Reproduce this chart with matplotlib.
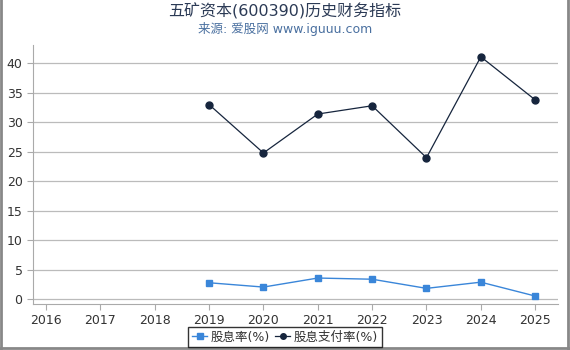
import matplotlib.pyplot as plt
from matplotlib.lines import Line2D

plt.rcParams['font.family'] = ['DejaVu Sans', 'Noto Sans CJK SC']

years = [2016, 2017, 2018, 2019, 2020, 2021, 2022, 2023, 2024, 2025]
data_years = [2019, 2020, 2021, 2022, 2023, 2024, 2025]
yield_pct = [2.8, 2.07, 3.6, 3.4, 1.85, 2.9, 0.55]        # 股息率(%)
payout_pct = [33.0, 24.8, 31.4, 32.8, 24.0, 41.1, 33.8]   # 股息支付率(%)

fig = plt.figure(figsize=(5.7, 3.5), dpi=100)
ax = fig.add_axes([33 / 570, 46 / 350, 525 / 570, 259 / 350])

ax.plot(data_years, yield_pct, color='#3a86d9', marker='s', markersize=5,
        linewidth=1, label='股息率(%)')
ax.plot(data_years, payout_pct, color='#16253d', marker='o', markersize=5,
        linewidth=0.9, label='股息支付率(%)')

ax.set_xlim(2016 - 0.24, 2025 + 0.42)
ax.set_ylim(-0.8, 43.1)
ax.set_xticks(years)
ax.set_yticks(range(0, 45, 5))
ax.grid(axis='y', color='#bbbbbb', linewidth=0.9)
ax.set_axisbelow(True)
for s in ['top', 'right']:
    ax.spines[s].set_visible(False)
ax.spines['left'].set_color('#aaaaaa')
ax.spines['bottom'].set_color('#aaaaaa')
ax.tick_params(colors='#aaaaaa', labelcolor='#333333', labelsize=9, length=4)

fig.text(0.5, 0.968, '五矿资本(600390)历史财务指标', ha='center', va='center',
         fontsize=11.5, color='#2b3a55')
fig.text(0.5, 0.918, '来源: 爱股网 www.iguuu.com', ha='center', va='center',
         fontsize=9, color='#4a70a0')

leg = fig.legend(loc='center', bbox_to_anchor=(285 / 570, 1 - 337 / 350), ncol=2,
                 fontsize=9, frameon=True, fancybox=False, handlelength=1.2,
                 handletextpad=0.3, columnspacing=0.4, borderpad=0.3, markerscale=0.8)
leg.get_frame().set_edgecolor('black')
leg.get_frame().set_linewidth(1)
for t in leg.get_texts():
    t.set_color('#333333')

# gray frame on left, right and bottom edges
for xs, ys in [([0.002, 0.002], [0, 1]), ([0.997, 0.997], [0, 1]), ([0, 1], [0.005, 0.005])]:
    fig.add_artist(Line2D(xs, ys, transform=fig.transFigure, color='#888888', linewidth=2))

fig.savefig('out.png', dpi=100)
